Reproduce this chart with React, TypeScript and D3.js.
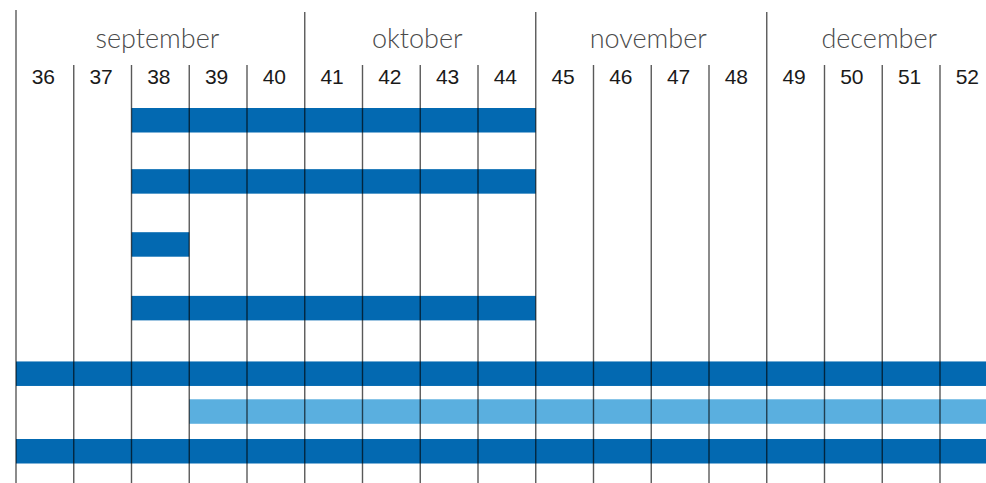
import React, { useEffect, useRef } from "react";
import * as d3 from "d3";

// weeks shown along the top
const weeks = [36, 37, 38, 39, 40, 41, 42, 43, 44, 45, 46, 47, 48, 49, 50, 51, 52];
// month blocks: label, first week, last week (exclusive)
const months = ["september", "oktober", "november", "december"];
const monthStart = [36, 41, 45, 49];
const monthEnd = [41, 45, 49, 53];
// task bars: start week, end week (exclusive), row position, kind
const taskStart = [38, 38, 38, 38, 36, 39, 36];
const taskEnd = [45, 45, 39, 45, 53, 53, 53];
const taskRow = [0, 0.97, 1.97, 2.98, 4.02, 4.62, 5.25];
const taskKind = ["main", "main", "main", "main", "main", "light", "main"];

const W = 986;
const H = 483;

export default function App() {
  const svgRef = useRef<SVGSVGElement>(null);

  useEffect(() => {
    document.body.style.margin = "0";
    const svg = d3.select(svgRef.current);
    svg.selectAll("*").remove();

    const x = d3.scaleLinear().domain([36, 53]).range([16, 997.75]);
    const y = d3.scaleLinear().domain([0, 5.25]).range([108, 439]);
    const barH = 24.5;
    const color = d3.scaleOrdinal<string, string>().domain(["main", "light"]).range(["#0369b1", "#5aafdf"]);

    const tasks = taskStart.map((s, i) => ({ s, e: taskEnd[i], row: taskRow[i], kind: taskKind[i] }));

    svg.append("g")
      .selectAll("rect")
      .data(tasks)
      .enter()
      .append("rect")
      .attr("x", (d) => x(d.s))
      .attr("y", (d) => y(d.row))
      .attr("width", (d) => x(d.e) - x(d.s))
      .attr("height", barH)
      .attr("fill", (d) => color(d.kind));

    // week labels
    svg.append("g")
      .selectAll("text")
      .data(weeks)
      .enter()
      .append("text")
      .attr("x", (d) => (x(d) + x(d + 1)) / 2 - 1.5)
      .attr("y", 84)
      .attr("text-anchor", "middle")
      .attr("font-family", "'Liberation Sans', Arial, sans-serif")
      .attr("font-size", 21)
      .attr("fill", "#1a1a1a")
      .text((d) => d);

    // month labels
    svg.append("g")
      .selectAll("text")
      .data(months)
      .enter()
      .append("text")
      .attr("x", (_, i) => (x(monthStart[i]) + x(monthEnd[i])) / 2 - 3)
      .attr("y", 48)
      .attr("text-anchor", "middle")
      .attr("font-family", "Lato, 'Open Sans', sans-serif")
      .attr("font-weight", 300)
      .attr("font-size", 27)
      .attr("fill", "#4a4a4a")
      .text((d) => d);

    // grid lines on top of bars
    const lines = svg.append("g")
      .attr("stroke", "#000")
      .attr("stroke-opacity", 0.65)
      .attr("stroke-width", 1.4);

    lines.selectAll("line.week")
      .data(weeks.filter((w) => !monthStart.includes(w)))
      .enter()
      .append("line")
      .attr("class", "week")
      .attr("x1", (d) => x(d))
      .attr("x2", (d) => x(d))
      .attr("y1", 65)
      .attr("y2", H);

    lines.selectAll("line.month")
      .data(monthStart)
      .enter()
      .append("line")
      .attr("class", "month")
      .attr("x1", (d) => x(d))
      .attr("x2", (d) => x(d))
      .attr("y1", (d, i) => (i === 0 ? 10 : 12))
      .attr("y2", H);
  }, []);

  return <svg ref={svgRef} width={W} height={H} style={{ display: "block", background: "#fff" }} />;
}
